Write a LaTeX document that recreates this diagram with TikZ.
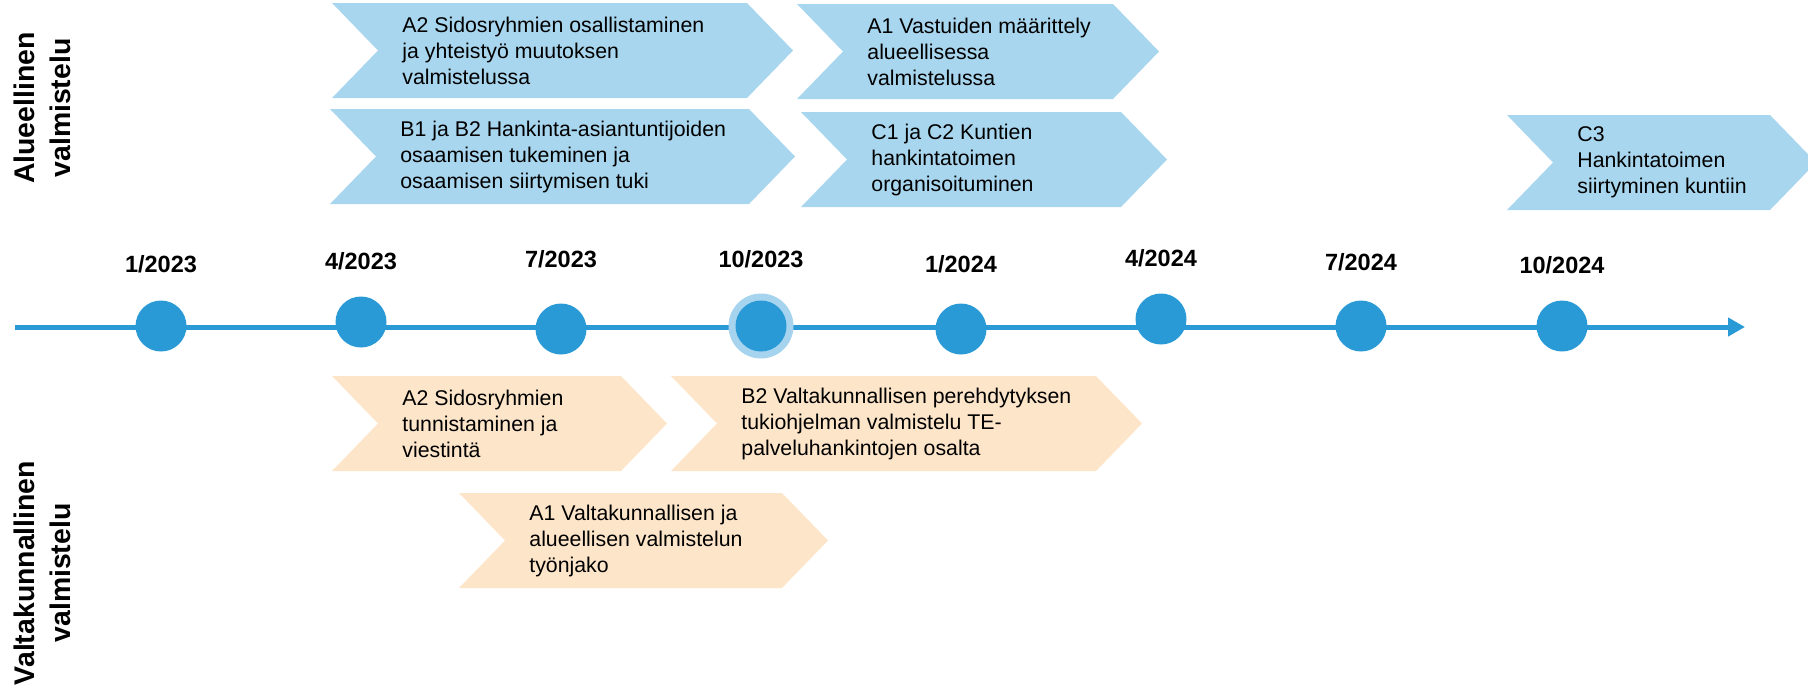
\documentclass[tikz,border=0pt]{standalone}
\usepackage{fontspec}
\setmainfont{Liberation Sans}
\usepackage{xcolor}
\usepackage{tikz}
\usetikzlibrary{positioning,arrows.meta}

\definecolor{lineblue}{HTML}{2A9AD7}
\definecolor{chevblue}{HTML}{A8D6EE}
\definecolor{chevpeach}{HTML}{FDE5C9}
\definecolor{haloblue}{HTML}{A6D4EE}

% chevron: name, left x, top y, body right x, fill, text
\newcommand{\chevron}[6]{%
  \fill[#5] (#2,#3) -- (#4,#3) -- (#4+46,#3+47.5) -- (#4,#3+95) -- (#2,#3+95) -- (#2+46,#3+47.5) -- cycle;
  \node[phase] (#1) at (#2+70,#3+47.5) {#6};
}

\begin{document}
\begin{tikzpicture}[
    x=0.5pt, y=-0.5pt,
    >=Latex,
    phase/.style={anchor=west, align=left, inner sep=0pt, font=\fontsize{10.65}{13}\selectfont},
    date/.style={inner sep=0pt, font=\bfseries\fontsize{11.75}{14}\selectfont},
    milestone/.style={circle, fill=lineblue, minimum size=25.5pt, inner sep=0pt},
    side/.style={rotate=90, align=center, inner sep=0pt, font=\bfseries\fontsize{14.2}{18}\selectfont}
]
\useasboundingbox (0,0) rectangle (1808,691);

% === Alueellinen valmistelu (top) ===
\node[side] (alue) at (42,108) {Alueellinen\\valmistelu};

\chevron{a2s}{332}{3}{747}{chevblue}{A2 Sidosryhmien osallistaminen\\ja yhteistyö muutoksen\\valmistelussa}
\chevron{a1s}{797}{4}{1113}{chevblue}{A1 Vastuiden määrittely\\alueellisessa\\valmistelussa}
\chevron{b1s}{330}{109}{749}{chevblue}{B1 ja B2 Hankinta-asiantuntijoiden\\osaamisen tukeminen ja\\osaamisen siirtymisen tuki}
\chevron{c1s}{801}{112}{1121}{chevblue}{C1 ja C2 Kuntien\\hankintatoimen\\organisoituminen}
\chevron{c3s}{1507}{115}{1770}{chevblue}{C3\\Hankintatoimen\\siirtyminen kuntiin}

% === Timeline ===
\coordinate (tstart) at (15,327);
\coordinate (tend) at (1745,327);
\draw[lineblue, line width=2.5pt, -{Triangle[length=8.5pt, width=9pt]}] (tstart) -- (tend);

\node[date] (d1) at (161,264) {1/2023};
\node[date] (d2) at (361,261) {4/2023};
\node[date] (d3) at (561,259) {7/2023};
\node[date] (d4) at (761,259) {10/2023};
\node[date] (d5) at (961,264) {1/2024};
\node[date] (d6) at (1161,258) {4/2024};
\node[date] (d7) at (1361,262) {7/2024};
\node[date] (d8) at (1562,265) {10/2024};

\node[milestone] (m1) at (161,326) {};
\node[milestone] (m2) at (361,322) {};
\node[milestone] (m3) at (561,329) {};
\node[circle, fill=haloblue, minimum size=32.5pt, inner sep=0pt] (halo) at (761,326) {};
\node[milestone] (m4) at (halo) {};
\node[milestone] (m5) at (961,329) {};
\node[milestone] (m6) at (1161,319) {};
\node[milestone] (m7) at (1361,326) {};
\node[milestone] (m8) at (1562,326) {};

% === Valtakunnallinen valmistelu (bottom) ===
\node[side] (valta) at (42,573) {Valtakunnallinen\\valmistelu};

\chevron{a2v}{332}{376}{621}{chevpeach}{A2 Sidosryhmien\\tunnistaminen ja\\viestintä}
\chevron{b2v}{671}{376}{1096}{chevpeach}{B2 Valtakunnallisen perehdytyksen\\tukiohjelman valmistelu TE-\\palveluhankintojen osalta}
\chevron{a1v}{459}{493}{782}{chevpeach}{A1 Valtakunnallisen ja\\alueellisen valmistelun\\työnjako}
\end{tikzpicture}
\end{document}
